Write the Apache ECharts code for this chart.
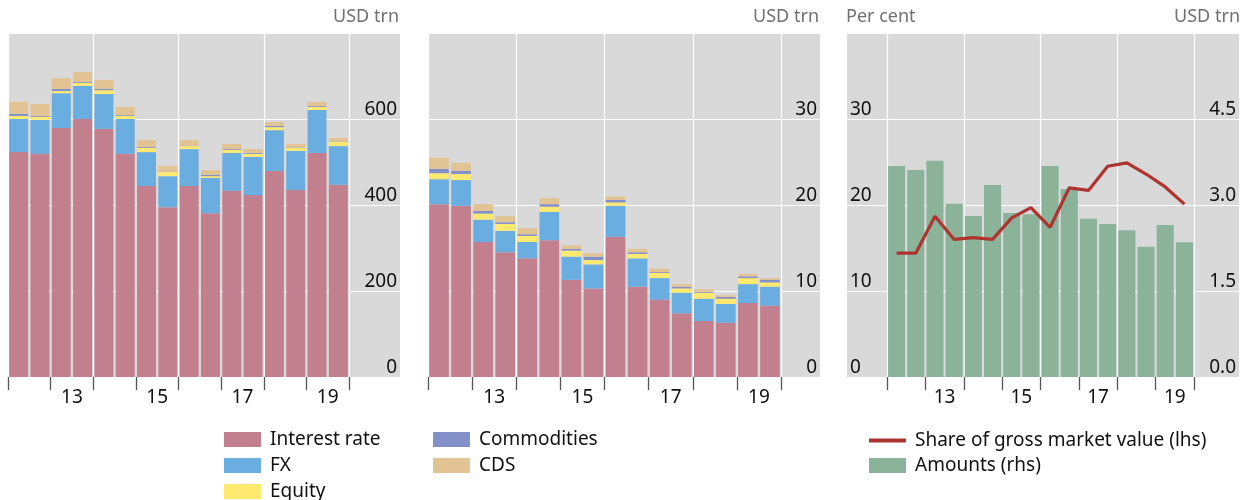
<!DOCTYPE html>
<html><head><meta charset="utf-8">
<script src="https://cdn.jsdelivr.net/npm/echarts@6/dist/echarts.min.js"></script>
<style>html,body{margin:0;padding:0;background:#fff}#c{width:1243px;height:500px}</style>
</head><body><div id="c"></div>
<script>
const periods = ['2012 H1','2012 H2','2013 H1','2013 H2','2014 H1','2014 H2','2015 H1','2015 H2','2016 H1','2016 H2','2017 H1','2017 H2','2018 H1','2018 H2','2019 H1','2019 H2'];
const tickYears = ['13','15','17','19'];

// Panel 1: notional amounts, USD trn
const ir1  = [523,519,579,600,577,519,444,395,444,381,433,423,479,435,521,447];
const fx1  = [77,79,81,77,81,81,79,72,86,82,88,89,95,91,100,90];
const eq1  = [7,7,5,7,9,7,10,10,7,4,7,7,7,7,7,10];
const com1 = [5,2,5,2,3,2,2,1,1,3,2,2,3,1,2,1];
const cds1 = [28,28,25,23,21,19,16,13,13,11,12,9,9,8,10,8];

// Panel 2: gross market values, USD trn
const ir2  = [20.1,19.9,15.7,14.5,13.8,15.9,11.3,10.3,16.3,10.5,9.0,7.4,6.5,6.3,8.6,8.3];
const fx2  = [2.9,3.0,2.6,2.5,1.9,3.3,2.7,2.8,3.6,3.3,2.5,2.4,2.6,2.2,2.2,2.2];
const eq2  = [0.7,0.7,0.7,0.8,0.7,0.6,0.7,0.5,0.4,0.5,0.6,0.5,0.7,0.6,0.7,0.5];
const com2 = [0.5,0.4,0.3,0.2,0.2,0.3,0.2,0.4,0.3,0.2,0.1,0.2,0.1,0.2,0.2,0.3];
const cds2 = [1.3,0.9,0.8,0.7,0.7,0.7,0.4,0.4,0.4,0.4,0.4,0.3,0.3,0.2,0.3,0.2];

// Panel 3
const amounts = [3.68,3.61,3.77,3.02,2.81,3.35,2.86,2.84,3.68,3.28,2.76,2.67,2.56,2.27,2.65,2.35];
const share   = [14.4,14.4,18.7,16.0,16.2,16.0,18.5,19.7,17.4,22.0,21.7,24.5,24.9,23.6,22.1,20.1];

const C = {ir:'#c27f8e', fx:'#6aade0', eq:'#ffe96f', com:'#8490c8', cds:'#e2c393', amt:'#8ab39a', line:'#ae3430', bg:'#d9d9d9'};
const FONT = 'Noto Sans';
const chart = echarts.init(document.getElementById('c'));

const TOP = 33, H = 344;
function yearFmt(v){ const y = v.slice(2,4); return (v.endsWith('H1') && tickYears.includes(y)) ? y : ''; }
function catAxis(gi, half){
  return {type:'category', gridIndex:gi, data:periods, offset:2,
    axisLine:{show:false},
    axisTick:{show:true, interval:(i)=>i%2===0, length:13, lineStyle:{color:'#555', width:1.3}},
    axisLabel:{interval:(i)=>i%4===2, formatter:yearFmt, color:'#111', fontSize:19, fontFamily:FONT, margin:9, padding:[0,0,0,half*2]},
    splitLine:{show:true, interval:(i)=>i%4===0, lineStyle:{color:'#fff', width:1.2}}};
}
function hidX(gi){ return {type:'value', gridIndex:gi, min:0, max:1, show:false}; }
function valAxis(gi, max, interval, pos, show, fmt){
  return {type:'value', gridIndex:gi, min:0, max:max, interval:interval, position:pos, show:show,
    axisLine:{show:false}, axisTick:{show:false},
    splitLine:{show:show, lineStyle:{color:'#fff', width:1.2}},
    axisLabel:{inside:true, align: pos==='left' ? 'left' : 'right', verticalAlign:'bottom', margin:3,
      showMaxLabel:false, color:'#111', fontSize:19, fontFamily:FONT, formatter:fmt}};
}
const grids = [
  {left:8, top:TOP, width:392, height:H, show:true, backgroundColor:C.bg, borderWidth:0},
  {left:8, top:TOP, width:341, height:H},
  {left:428, top:TOP, width:392, height:H, show:true, backgroundColor:C.bg, borderWidth:0},
  {left:428, top:TOP, width:353, height:H},
  {left:847, top:TOP, width:392, height:H, show:true, backgroundColor:C.bg, borderWidth:0},
  {left:887, top:TOP, width:307, height:H}
];
const xAxes = [hidX(0), catAxis(1, 10.7), hidX(2), catAxis(3, 11), hidX(4), catAxis(5, 9.6)];
const yA = [
  valAxis(0, 800, 200, 'right', true),              //0
  valAxis(1, 800, 200, 'right', false),             //1
  valAxis(2, 40, 10, 'right', true),                //2
  valAxis(3, 40, 10, 'right', false),               //3
  valAxis(4, 40, 10, 'left', true),                 //4
  valAxis(4, 6, 1.5, 'right', true, v=>v.toFixed(1)), //5
  valAxis(5, 6, 1.5, 'right', false),               //6
  valAxis(5, 40, 10, 'left', false)                 //7
];
yA[5].splitLine = {show:false};

function stackSeries(xi, yi, stack, arrs){
  const names = ['Interest rate','FX','Equity','Commodities','CDS'];
  const cols = [C.ir, C.fx, C.eq, C.com, C.cds];
  return arrs.map((a,i)=>({name:names[i], type:'bar', xAxisIndex:xi, yAxisIndex:yi, stack:stack,
    data:a, barCategoryGap:'11%', itemStyle:{color:cols[i]}, emphasis:{disabled:true}}));
}
const series = [
  ...stackSeries(1,1,'a',[ir1,fx1,eq1,com1,cds1]),
  ...stackSeries(3,3,'b',[ir2,fx2,eq2,com2,cds2]),
  {name:'Amounts (rhs)', type:'bar', xAxisIndex:5, yAxisIndex:6, data:amounts, barCategoryGap:'11%', itemStyle:{color:C.amt}},
  {name:'Share of gross market value (lhs)', type:'line', xAxisIndex:5, yAxisIndex:7, data:share, symbol:'none',
   lineStyle:{color:C.line, width:3.2}, itemStyle:{color:C.line}, z:5}
];
const legText = {fontSize:19, fontFamily:FONT, color:'#111', lineHeight:19, padding:[0,0,0,4]};
const legBase = {orient:'vertical', itemWidth:37, itemHeight:15, itemGap:7, icon:'rect', textStyle:legText, selectedMode:false, height:90, padding:0};
const option = {
  animation:false,
  grid:grids, xAxis:xAxes, yAxis:yA, series:series,
  legend:[
    Object.assign({}, legBase, {left:224, top:430, data:['Interest rate','FX','Equity']}),
    Object.assign({}, legBase, {left:433, top:430, data:['Commodities','CDS']}),
    Object.assign({}, legBase, {left:869, top:431, itemHeight:4, data:['Share of gross market value (lhs)']}),
    Object.assign({}, legBase, {left:869, top:456, data:['Amounts (rhs)']})
  ],
  graphic:[
    {type:'text', right:1243-399, top:8, style:{text:'USD trn', fill:'#707070', font:'18px "Noto Sans"'}},
    {type:'text', right:1243-819, top:8, style:{text:'USD trn', fill:'#707070', font:'18px "Noto Sans"'}},
    {type:'text', left:846, top:8, style:{text:'Per cent', fill:'#707070', font:'18px "Noto Sans"'}},
    {type:'text', right:3, top:8, style:{text:'USD trn', fill:'#707070', font:'18px "Noto Sans"'}}
  ]
};
chart.setOption(option);
</script></body></html>
